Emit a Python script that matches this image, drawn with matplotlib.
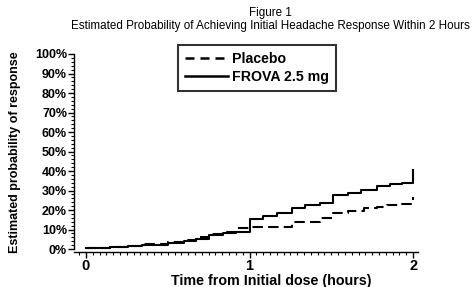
import matplotlib
matplotlib.use("Agg")
import matplotlib.pyplot as plt
from matplotlib.ticker import MultipleLocator, FuncFormatter
from matplotlib.lines import Line2D

# Step times (hours) and estimated probabilities (%)
placebo_t = [0.0, 0.15, 0.26, 0.34, 0.50, 0.60, 0.67, 0.75, 0.84, 0.92, 1.00,
             1.26, 1.43, 1.51, 1.60, 1.70, 1.78, 1.84, 1.93, 2.00, 2.00]
placebo_v = [0.5, 1.0, 1.5, 2.5, 3.5, 4.5, 6.0, 7.5, 9.0, 10.8, 11.3,
             13.8, 15.9, 18.5, 19.5, 21.0, 21.5, 22.5, 23.0, 23.0, 26.7]
frova_t = [0.0, 0.15, 0.26, 0.34, 0.50, 0.60, 0.67, 0.75, 0.84, 0.92, 1.00,
           1.08, 1.17, 1.26, 1.34, 1.43, 1.51, 1.60, 1.68, 1.78, 1.86, 1.93, 2.00, 2.00]
frova_v = [0.5, 1.0, 1.5, 2.0, 3.0, 4.0, 5.0, 7.0, 8.0, 8.7, 15.4,
           17.0, 18.5, 21.0, 22.5, 23.5, 27.5, 28.5, 30.5, 32.5, 33.5, 34.0, 34.0, 40.5]
x_ticks = [0, 1, 2]
y_ticks = list(range(0, 101, 10))
series_labels = ["Placebo", "FROVA 2.5 mg"]

W, H = 476, 287
fig = plt.figure(figsize=(W / 100, H / 100), dpi=100)
ax = fig.add_axes([74 / W, 1 - 252 / H, (418 - 74) / W, (252 - 54) / H])

sans = ["Liberation Sans", "DejaVu Sans"]
bold = dict(family=sans, weight="bold")

ax.step(placebo_t, placebo_v, where="post", color="black", lw=1.5,
        linestyle=(0, (5, 2.5)))
ax.step(frova_t, frova_v, where="post", color="black", lw=1.5)

ax.set_xlim(-0.073, 2.03)
ax.set_ylim(-1.5, 100)
for s in ["top", "right"]:
    ax.spines[s].set_visible(False)
ax.spines["left"].set_bounds(0, 100)
ax.spines["left"].set_linewidth(1.0)
ax.spines["bottom"].set_linewidth(1.0)

ax.set_xticks(x_ticks)
ax.set_yticks(y_ticks)
ax.xaxis.set_minor_locator(MultipleLocator(1 / 24))
ax.yaxis.set_minor_locator(MultipleLocator(2))
ax.yaxis.set_major_formatter(FuncFormatter(lambda v, p: f"{int(round(v))}%"))
ax.tick_params(axis="both", which="major", direction="out", length=4, width=1,
               colors="black", pad=1)
ax.tick_params(axis="both", which="minor", direction="out", length=2, width=0.8)
for lab in ax.get_yticklabels():
    lab.set_family(sans)
    lab.set_weight("bold")
    lab.set_fontsize(9)
for lab in ax.get_xticklabels():
    lab.set_family(sans)
    lab.set_weight("bold")
    lab.set_fontsize(10.5)

fig.text(15 / W, 1 - 152 / H, "Estimated probability of response", rotation=90,
         ha="center", va="center", fontsize=9, **bold)
fig.text(271 / W, 1 - 281 / H, "Time from Initial dose (hours)", ha="center",
         va="center", fontsize=10.3, **bold)

title_font = ["Liberation Sans Narrow", "DejaVu Sans Condensed", "Liberation Sans"]
fig.text(270 / W, 1 - 13 / H, "Figure 1", ha="center", va="center",
         fontsize=8.4, family=title_font)
fig.text(270 / W, 1 - 26 / H,
         "Estimated Probability of Achieving Initial Headache Response Within 2 Hours",
         ha="center", va="center", fontsize=8.4, family=title_font)

handles = [Line2D([], [], color="black", lw=1.8, linestyle=(0, (3.6, 2.4))),
           Line2D([], [], color="black", lw=1.8)]
leg = fig.legend(handles, series_labels, loc="upper left",
                 bbox_to_anchor=(178 / W, 1 - 45 / H), bbox_transform=fig.transFigure,
                 borderaxespad=0, fancybox=False, frameon=True, handlelength=3.0,
                 handletextpad=0.3, borderpad=0.5, labelspacing=0.25,
                 prop=dict(family=sans, weight="bold", size=10.2))
leg.get_frame().set_edgecolor("black")
leg.get_frame().set_linewidth(1.5)

fig.savefig("out.png", dpi=100)
